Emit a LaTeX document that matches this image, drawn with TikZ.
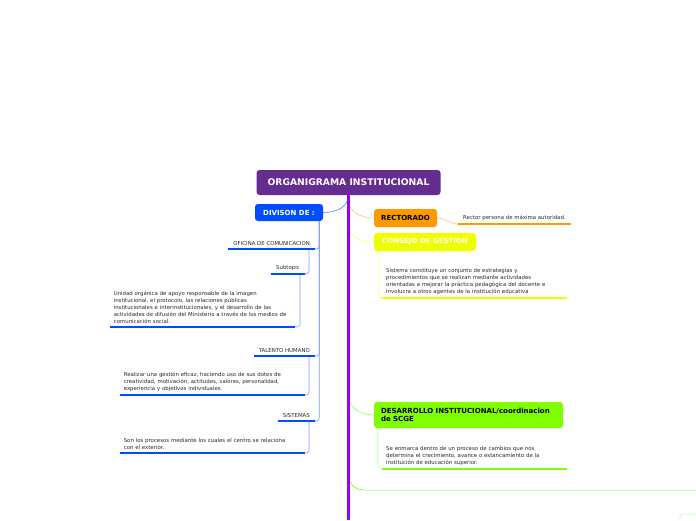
\documentclass[tikz,border=0pt]{standalone}
\usepackage{fontspec}
\setmainfont{DejaVu Sans}
\usetikzlibrary{positioning,calc}
\definecolor{mapPurple}{RGB}{102,45,145}
\definecolor{mapViolet}{RGB}{150,0,255}
\definecolor{mapBlue}{RGB}{0,76,255}
\definecolor{mapBlueLt}{RGB}{125,155,255}
\definecolor{mapOrange}{RGB}{255,153,0}
\definecolor{mapOrangeLt}{RGB}{255,200,130}
\definecolor{mapYellow}{RGB}{238,255,0}
\definecolor{mapYellowLt}{RGB}{245,255,140}
\definecolor{mapGreen}{RGB}{128,255,0}
\definecolor{mapGreenLt}{RGB}{190,255,180}
\definecolor{mapText}{RGB}{40,40,40}

\tikzset{
  topic/.style={rounded corners=3pt, inner sep=0pt, font=\fontsize{7}{8.5}\selectfont\bfseries},
  leaf/.style={inner xsep=5pt, inner ysep=3.5pt, text=mapText, font=\fontsize{5.4}{7}\selectfont},
  note/.style={leaf, text width=177pt, inner xsep=4pt, align=left, anchor=south west},
}

\begin{document}
\begin{tikzpicture}[x=1pt, y=-1pt]
  \useasboundingbox (0,0) rectangle (696,520);

  % central topic and spine
  \node[topic, fill=mapPurple, text=white, minimum width=184pt, minimum height=25pt,
        font=\fontsize{9.2}{10}\selectfont\bfseries] (root) at (348.5,182.5) {ORGANIGRAMA INSTITUCIONAL};
  \coordinate (spinebot) at (348.5,520);
  \coordinate (s1) at (348.5,200);
  \coordinate (s2) at (348.5,226);
  \coordinate (s3) at (348.5,396);
  \coordinate (s4) at (348.5,476);

  % left branch
  \node[topic, fill=mapBlue, text=white, minimum width=68pt, minimum height=17pt] (division) at (289,212.5) {DIVISON DE :};
  \node[leaf, anchor=south east] (ofi) at (315,249) {OFICINA DE COMUNICACION};
  \node[leaf, anchor=south east] (sub) at (305,274) {Subtopic};
  \node[note, anchor=south east] (unidad) at (295,327) {Unidad orgánica de apoyo responsable de la imagen\\
    institucional, el protocolo, las relaciones públicas\\
    institucionales e interinstitucionales, y el desarrollo de las\\
    actividades de difusión del Ministerio a través de los medios de\\
    comunicación social.};
  \node[leaf, anchor=south east] (talento) at (315,356) {TALENTO HUMANO};
  \node[note, anchor=south east] (realizar) at (305,395) {Realizar una gestión eficaz, haciendo uso de sus dotes de\\
    creatividad, motivación, actitudes, valores, personalidad,\\
    experiencia y objetivos individuales.};
  \node[leaf, anchor=south east] (sistemas) at (315,421) {SISTEMAS};
  \node[note, anchor=south east] (sonlos) at (305,453) {Son los procesos mediante los cuales el centro se relaciona\\
    con el exterior.};

  \draw[mapBlue!70, line width=0.6pt] (root.south) .. controls (348.5,206) and (338,212.5) .. (division.east);
  \foreach \leafname in {ofi,talento,sistemas}
    \draw[mapBlueLt, line width=0.6pt, rounded corners=3pt] ($(division.south east)+(-4,0)$) |- (\leafname.south east);
  \draw[mapBlueLt, line width=0.6pt, rounded corners=3pt] ($(ofi.south east)+(-6,0)$) |- (sub.south east);
  \draw[mapBlueLt, line width=0.6pt, rounded corners=3pt] ($(sub.south east)+(-5,0)$) |- (unidad.south east);
  \draw[mapBlueLt, line width=0.6pt, rounded corners=3pt] ($(talento.south east)+(-6,0)$) |- (realizar.south east);
  \draw[mapBlueLt, line width=0.6pt, rounded corners=3pt] ($(sistemas.south east)+(-6,0)$) |- (sonlos.south east);
  \foreach \leafname in {ofi,sub,unidad,talento,realizar,sistemas,sonlos}
    \draw[mapBlue, line width=2.2pt] (\leafname.south west) -- (\leafname.south east);

  % right branch
  \node[topic, fill=mapOrange, text=black, minimum width=63pt, minimum height=18pt] (rectorado) at (405.5,218) {RECTORADO};
  \node[leaf, anchor=south west] (rector) at (458,224) {Rector persona de máxima autoridad.};
  \node[topic, fill=mapYellow, text=white, minimum width=102pt, minimum height=18pt] (consejo) at (425,242) {CONSEJO DE GESTION};
  \node[note] (sistema) at (382,298) {Sistema constituye un conjunto de estrategias y\\
    procedimientos que se realizan mediante actividades\\
    orientadas a mejorar la práctica pedagógica del docente e\\
    involucra a otros agentes de la institución educativa};
  \node[topic, fill=mapGreen, text=black, minimum width=189pt, minimum height=26pt, inner xsep=7pt,
        align=left, text width=175pt] (desarrollo) at (468.5,415) {DESARROLLO INSTITUCIONAL/coordinacion\\de SCGE};
  \node[note] (enmarca) at (382,469) {Se enmarca dentro de un proceso de cambios que nos\\
    determina el crecimiento, avance o estancamiento de la\\
    institución de educación superior.};

  \draw[mapOrangeLt, line width=0.7pt] (s1) to[out=-90, in=180] (rectorado.west);
  \draw[mapOrangeLt, line width=0.7pt] (rectorado.east) to[out=0, in=180] (rector.south west);
  \draw[mapOrange, line width=2pt] (rector.south west) -- (rector.south east);
  \draw[mapYellowLt, line width=0.7pt] (s2) to[out=-90, in=180] (consejo.west);
  \draw[mapYellowLt, line width=0.7pt, rounded corners=3pt] ($(consejo.south west)+(5,0)$) |- (sistema.south west);
  \draw[mapYellow, line width=2.2pt] (sistema.south west) -- (sistema.south east);
  \draw[mapGreen!70, line width=0.7pt] (s3) to[out=-90, in=180] (desarrollo.west);
  \draw[mapGreenLt, line width=0.7pt, rounded corners=3pt] ($(desarrollo.south west)+(4,0)$) |- (enmarca.south west);
  \draw[mapGreen, line width=2.2pt] (enmarca.south west) -- (enmarca.south east);

  % branch leaving the page
  \coordinate (bend) at (364,490);
  \coordinate (offright) at (696,490);
  \draw[mapGreen, line width=0.7pt] (s4) to[out=-90, in=180] (bend);
  \draw[mapGreenLt, line width=0.7pt] (bend) -- (offright);
  \coordinate (cornerlo) at (680,520);
  \coordinate (cornerhi) at (696,514);
  \draw[mapGreenLt, line width=0.7pt, rounded corners=3pt] (cornerlo) |- (cornerhi);

  \draw[mapViolet, line width=2.5pt] (root.south) -- (spinebot);
\end{tikzpicture}
\end{document}
